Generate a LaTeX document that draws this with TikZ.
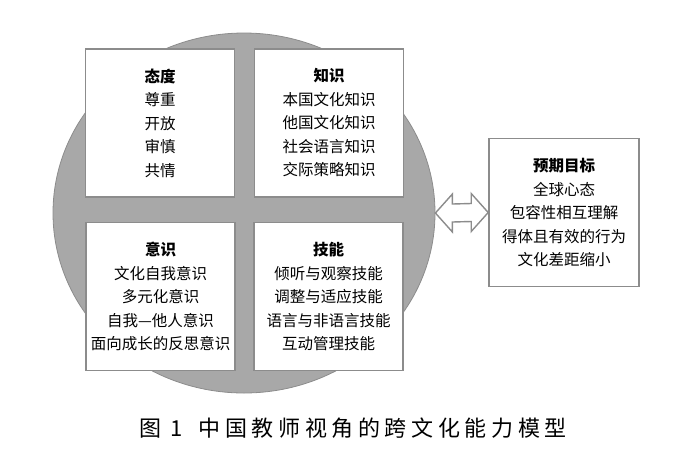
\documentclass[tikz,border=0pt]{standalone}
\usepackage{fontspec}
\newfontfamily\cjk{Noto Sans CJK SC}
\newfontfamily\cjkcap[LetterSpace=21]{Noto Sans CJK SC}
\usetikzlibrary{calc,shapes.geometric}
\definecolor{quangray}{gray}{0.66}
\definecolor{rimgray}{gray}{0.55}

\begin{document}
\begin{tikzpicture}[x=1pt,y=-1pt,
    kuang/.style={draw=rimgray, line width=1.6pt, fill=white, minimum width=149pt,
      minimum height=148pt, inner sep=0pt, align=center,
      font=\cjk\fontsize{15.5}{23.5}\selectfont},
    hollowarrow/.style={draw=rimgray, line width=1.4pt, fill=white, line join=miter}]
    \useasboundingbox (0,0) rectangle (700,456);
    % model circle
    \node[ellipse, draw=rimgray, fill=quangray, line width=0.8pt, minimum width=382pt,
      minimum height=360pt, inner sep=0pt] (quan) at (244,213) {}; %% background disc
    % four quarters
    \node[kuang] (taidu) at (160,123) {{\bfseries 态度}\\尊重\\开放\\审慎\\共情};
    \node[kuang] (zhishi) at (329,123) {{\bfseries 知识}\\本国文化知识\\他国文化知识\\社会语言知识\\交际策略知识};
    \node[kuang] (yishi) at (160.5,296.5) {{\bfseries 意识}\\文化自我意识\\多元化意识\\自我—他人意识\\面向成长的反思意识};
    \node[kuang] (jineng) at (328.5,296.5) {{\bfseries 技能}\\倾听与观察技能\\调整与适应技能\\语言与非语言技能\\互动管理技能};
    % expected outcome
    \node[kuang, minimum width=150pt] (mubiao) at (564,212.5) {{\bfseries 预期目标}\\全球心态\\包容性相互理解\\得体且有效的行为\\文化差距缩小};
    % hollow double arrow between disc and outcome
    \coordinate (al) at (quan.east);
    \coordinate (ar) at (mubiao.west);
    \draw[hollowarrow] (al) -- ++(17,-19) -- ++(0,10) -- ($(ar)+(-17,-9)$) -- ++(0,-10)
      -- (ar) -- ++(-17,19) -- ++(0,-10) -- ($(al)+(17,9)$) -- ++(0,10) -- cycle;
    % caption
    \node[font=\cjkcap\fontsize{22}{26}\selectfont] (timing) at (353,428) {图\hspace{9pt}1\hspace{16pt}中国教师视角的跨文化能力模型};
\end{tikzpicture}
\end{document}
